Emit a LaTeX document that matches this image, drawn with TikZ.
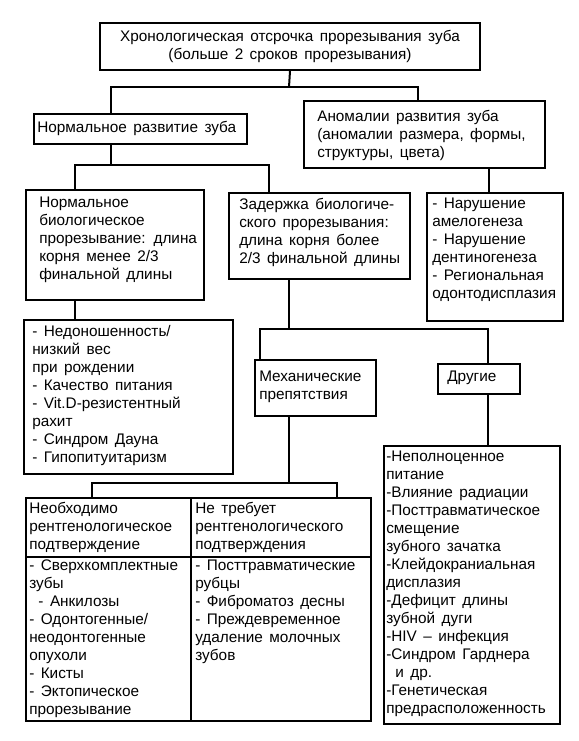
\documentclass[tikz,border=0pt]{standalone}
\usepackage{fontspec}
\setmainfont{Liberation Sans}
\usetikzlibrary{calc}

\newcommand{\boxfont}{\fontsize{11.5}{13.5}\selectfont\spaceskip=0.42em\relax}

\tikzset{
  box/.style={draw, line width=1.5pt, anchor=north west, inner sep=0pt},
  txt/.style={inner sep=0pt, anchor=north west, align=left, font=\boxfont},
  link/.style={line width=1.5pt},
}

\begin{document}
\begin{tikzpicture}[x=0.75pt,y=0.75pt,yscale=-1,xscale=1]
\useasboundingbox (0,0) rectangle (578,741);

%Shape: Rectangle
\node[box, minimum width=285pt, minimum height=35.25pt, align=center, font=\boxfont] (top) at (99,22) {Хронологическая отсрочка прорезывания зуба\\(больше 2 сроков прорезывания)};
%Shape: Rectangle
\node[box, minimum width=159.75pt, minimum height=22.5pt] (norm) at (33,113) {};
\node[box, minimum width=180.75pt, minimum height=50.25pt] (anom) at (303,100) {};
\node[box, minimum width=133.5pt, minimum height=82.5pt] (bio) at (25,189) {};
\node[box, minimum width=135.75pt, minimum height=64.5pt] (delay) at (228,192) {};
\node[box, minimum width=102pt, minimum height=96pt] (alist) at (426,192) {};
\node[box, minimum width=156.75pt, minimum height=115.5pt] (causes) at (23,319) {};
\node[box, minimum width=90.75pt, minimum height=42pt] (mech) at (254,359) {};
\node[box, minimum width=61.5pt, minimum height=22.5pt] (other) at (437,363) {};
\node[box, minimum width=132pt, minimum height=208.5pt] (olist) at (383,445) {};
%Shape: Table
\node[box, minimum width=123.75pt, minimum height=44.25pt] (hl) at (25,497) {};
\node[box, minimum width=135pt, minimum height=44.25pt] (hr) at (190,497) {};
\node[box, minimum width=123.75pt, minimum height=123pt] (bl) at (25,556) {};
\node[box, minimum width=135pt, minimum height=123pt] (br) at (190,556) {};

% Text Node
\node[txt] (norm-t) at ($(norm.north west)+(4,8)$) {Нормальное развитие зуба};
% Text Node
\node[txt] (anom-t) at ($(anom.north west)+(14,10)$) {Аномалии развития зуба\\(аномалии размера, формы,\\структуры, цвета)};
% Text Node
\node[txt] (bio-t) at ($(bio.north west)+(14,8)$) {Нормальное\\биологическое\\прорезывание: длина\\корня менее 2/3\\финальной длины};
% Text Node
\node[txt] (delay-t) at ($(delay.north west)+(11,6)$) {Задержка биологиче-\\ского прорезывания:\\длина корня более\\2/3 финальной длины};
% Text Node
\node[txt] (alist-t) at ($(alist.north west)+(6,6)$) {- Нарушение\\амелогенеза\\- Нарушение\\дентиногенеза\\- Региональная\\одонтодисплазия};
% Text Node
\node[txt] (causes-t) at ($(causes.north west)+(9,6)$) {- Недоношенность/\\низкий вес\\при рождении\\- Качество питания\\- Vit.D-резистентный\\рахит\\- Синдром Дауна\\- Гипопитуитаризм};
% Text Node
\node[txt] (mech-t) at ($(mech.north west)+(5,12)$) {Механические\\препятствия};
% Text Node
\node[txt] (other-t) at ($(other.north west)+(10,8)$) {Другие};
% Text Node
\node[txt] (olist-t) at ($(olist.north west)+(3,6)$) {-Неполноценное\\питание\\-Влияние радиации\\-Посттравматическое\\смещение\\зубного зачатка\\-Клейдокраниальная\\дисплазия\\-Дефицит длины\\зубной дуги\\-HIV – инфекция\\-Синдром Гарднера\\\hspace*{0.6em}и др.\\-Генетическая\\предрасположенность};
% Text Node
\node[txt] (hl-t) at ($(hl.north west)+(4,5)$) {Необходимо\\рентгенологическое\\подтверждение};
% Text Node
\node[txt] (hr-t) at ($(hr.north west)+(5,5)$) {Не требует\\рентгенологического\\подтверждения};
% Text Node
\node[txt] (bl-t) at ($(bl.north west)+(4,4)$) {- Сверхкомплектные\\зубы\\\hspace*{0.6em}- Анкилозы\\- Одонтогенные/\\неодонтогенные\\опухоли\\- Кисты\\- Эктопическое\\прорезывание};
% Text Node
\node[txt] (br-t) at ($(br.north west)+(5,4)$) {- Посттравматические\\рубцы\\- Фиброматоз десны\\- Преждевременное\\удаление молочных\\зубов};

%Straight Lines
\coordinate (bus1) at (289,87);
\draw[link] (top.south) -- (bus1);
\draw[link] ($(norm.north west)+(78,0)$) |- (bus1) -| ($(anom.north west)+(115,0)$);
%Straight Lines
\coordinate (bus2) at (111,165);
\draw[link] ($(norm.south west)+(78,0)$) -- (bus2);
\draw[link] ($(bio.north west)+(50,0)$) |- (bus2) -| ($(delay.north west)+(41,0)$);
%Straight Lines
\draw[link] ($(anom.south west)+(186,0)$) -- ($(alist.north west)+(63,0)$);
\draw[link] ($(bio.south west)+(50,0)$) -- ($(causes.north west)+(52,0)$);
%Straight Lines
\coordinate (bus3) at (289,329);
\draw[link] ($(delay.south west)+(61,0)$) -- (bus3);
\draw[link] ($(mech.north west)+(6,0)$) |- (bus3) -| ($(other.north west)+(51,0)$);
\draw[link] ($(other.south west)+(51,0)$) -- ($(olist.north west)+(105,0)$);
%Straight Lines
\coordinate (bus4) at (289,483);
\draw[link] ($(mech.south west)+(35,0)$) -- (bus4);
\draw[link] ($(hl.north west)+(67,0)$) |- (bus4) -| ($(hr.north west)+(147,0)$);

\end{tikzpicture}
\end{document}
